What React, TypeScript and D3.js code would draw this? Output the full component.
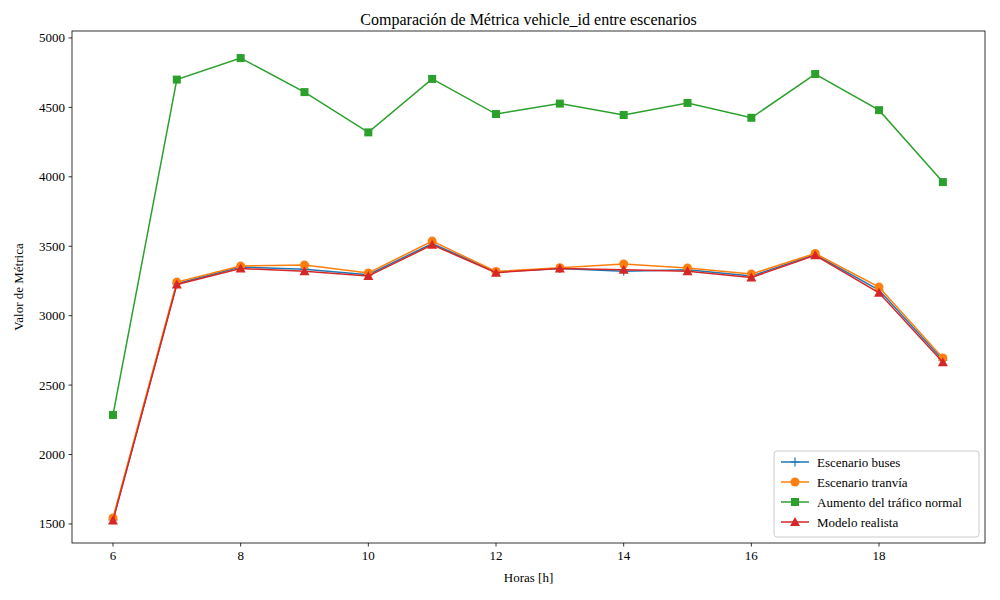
import React from "react";
import * as d3 from "d3";

const hours = [6, 7, 8, 9, 10, 11, 12, 13, 14, 15, 16, 17, 18, 19];
const buses = [1530, 3230, 3350, 3335, 3295, 3520, 3315, 3340, 3320, 3330, 3285, 3440, 3185, 2680];
const tranvia = [1543, 3242, 3357, 3365, 3307, 3537, 3318, 3345, 3372, 3343, 3300, 3448, 3206, 2695];
const aumento = [2285, 4700, 4855, 4610, 4320, 4705, 4452, 4527, 4445, 4532, 4425, 4740, 4480, 3962];
const realista = [1525, 3225, 3340, 3320, 3285, 3510, 3310, 3340, 3330, 3320, 3275, 3435, 3165, 2665];
const xTicks = [6, 8, 10, 12, 14, 16, 18];
const yTicks = [1500, 2000, 2500, 3000, 3500, 4000, 4500, 5000];

const series = [
  { name: "Escenario buses", values: buses, color: "#1f77b4", marker: "plus" },
  { name: "Escenario tranvía", values: tranvia, color: "#ff7f0e", marker: "circle" },
  { name: "Aumento del tráfico normal", values: aumento, color: "#2ca02c", marker: "square" },
  { name: "Modelo realista", values: realista, color: "#d62728", marker: "triangle" },
];

const L = 72, R = 985, T = 31, B = 543;

function Marker({ type, x, y, c }: any) {
  if (type === "circle") return <circle cx={x} cy={y} r={4.5} fill={c} />;
  if (type === "square") return <rect x={x - 4} y={y - 4} width={8} height={8} fill={c} />;
  if (type === "triangle") return <path d={`M${x},${y - 5}L${x + 5},${y + 4}L${x - 5},${y + 4}Z`} fill={c} />;
  return <path d={`M${x - 4.5},${y}H${x + 4.5}M${x},${y - 4.5}V${y + 4.5}`} stroke={c} strokeWidth={1.2} />;
}

export default function App() {
  const x = d3.scaleLinear().domain([5.358, 19.66]).range([L, R]);
  const y = d3.scaleLinear().domain([1363, 5050]).range([B, T]);
  const line = d3.line<number>().x((_, i) => x(hours[i])).y((v) => y(v));
  const font = "'Liberation Serif', 'DejaVu Serif', serif";
  return (
    <div style={{ position: "absolute", left: 0, top: 0 }}>
      <svg width={1000} height={600} style={{ fontFamily: font, display: "block" }}>
        <rect width={1000} height={600} fill="#fff" />
        {series.map((s) => (
          <g key={s.name}>
            <path d={line(s.values) || ""} fill="none" stroke={s.color} strokeWidth={1.5} />
            {s.values.map((v, i) => (
              <Marker key={i} type={s.marker} x={x(hours[i])} y={y(v)} c={s.color} />
            ))}
          </g>
        ))}
        <rect x={L} y={T} width={R - L} height={B - T} fill="none" stroke="#000" strokeWidth={0.8} />
        {xTicks.map((t) => (
          <g key={t}>
            <line x1={x(t)} x2={x(t)} y1={B} y2={B + 3.5} stroke="#000" strokeWidth={0.8} />
            <text x={x(t)} y={B + 17} textAnchor="middle" fontSize={13}>{t}</text>
          </g>
        ))}
        {yTicks.map((t) => (
          <g key={t}>
            <line x1={L - 3.5} x2={L} y1={y(t)} y2={y(t)} stroke="#000" strokeWidth={0.8} />
            <text x={L - 7} y={y(t) + 4.5} textAnchor="end" fontSize={13}>{t}</text>
          </g>
        ))}
        <text x={(L + R) / 2} y={582} textAnchor="middle" fontSize={13}>Horas [h]</text>
        <text transform={`translate(23,${(T + B) / 2}) rotate(-90)`} textAnchor="middle" fontSize={13}>Valor de Métrica</text>
        <text x={(L + R) / 2} y={25} textAnchor="middle" fontSize={16}>Comparación de Métrica vehicle_id entre escenarios</text>
        <g>
          <rect x={774} y={451} width={205} height={86} rx={3} fill="#fff" fillOpacity={0.8} stroke="#ccc" />
          {series.map((s, i) => {
            const yy = 462 + i * 20;
            return (
              <g key={s.name}>
                <line x1={781} x2={809} y1={yy} y2={yy} stroke={s.color} strokeWidth={1.5} />
                <Marker type={s.marker} x={795} y={yy} c={s.color} />
                <text x={817} y={yy + 4.5} fontSize={13}>{s.name}</text>
              </g>
            );
          })}
        </g>
      </svg>
    </div>
  );
}
